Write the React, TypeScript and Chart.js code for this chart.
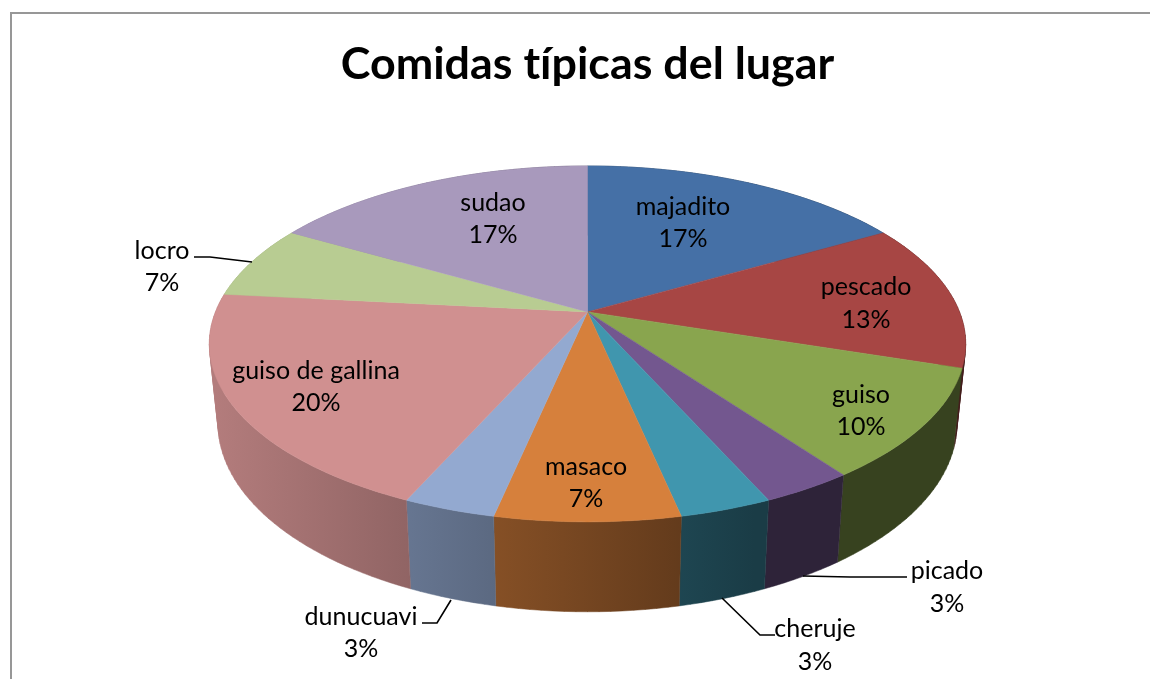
import React, { useEffect, useRef } from "react";
import { Chart, registerables } from "chart.js";

Chart.register(...registerables);

const TITLE = "Comidas típicas del lugar";
const FONT = "Lato, 'Open Sans', sans-serif";
const categories = ["majadito", "pescado", "guiso", "picado", "cheruje", "masaco", "dunucuavi", "guiso de gallina", "locro", "sudao"];
const counts = [5, 4, 3, 1, 1, 2, 1, 6, 2, 5];
const sliceColors = ["#4570a6", "#a74644", "#89a54e", "#73578f", "#4096ae", "#d6803c", "#93a9d0", "#d09090", "#b8cc92", "#a899bc"];

// Centre of each data label's two text lines: [x, first line y, second line y]
const labelPlaces: [number, number, number][] = [
  [683, 207, 239], [866, 287, 320], [861, 395, 427], [947, 571, 604], [815, 629, 662],
  [586, 467, 499], [361, 617, 649], [316, 371, 403], [162, 251, 283], [493, 203, 235],
];
// Leader lines for the labels placed outside the pie
const leaderLines: [number, number][][] = [
  [[194, 257], [210, 257], [252, 262]],
  [[422, 623], [437, 623], [451, 600]],
  [[722, 598], [760, 635], [775, 635]],
  [[803, 576], [850, 577], [907, 577]],
];

// Perspective of the tilted disc
const RX = 372, RY = 172.2, TILT = 0.18, BASE_SCALE = 0.977, DEPTH = 77.7;

function top(cx: number, cy: number, a: number): [number, number] {
  const u = Math.cos(a), v = Math.sin(a), d = 1 - TILT * v;
  return [cx + (RX * u) / d, cy + (RY * v) / d];
}
function bottom(cx: number, cy: number, a: number): [number, number] {
  const u = Math.cos(a), v = Math.sin(a), d = 1 - TILT * v;
  return [cx + (BASE_SCALE * RX * u) / d, cy + (BASE_SCALE * RY * v + DEPTH) / d];
}
function shade(hex: string, f: number) {
  const n = parseInt(hex.slice(1), 16);
  return `rgb(${Math.round(((n >> 16) & 255) * f)},${Math.round(((n >> 8) & 255) * f)},${Math.round((n & 255) * f)})`;
}

const pie3d = {
  id: "pie3d",
  beforeDraw(chart: any) {
    // A tiny letter spacing turns off the "ti" ligature of the font
    chart.ctx.letterSpacing = "0.01px";
  },
  beforeDatasetDraw(chart: any) {
    const ctx = chart.ctx as CanvasRenderingContext2D;
    const arcs = chart.getDatasetMeta(0).data as any[];
    const STEP = Math.PI / 120;
    arcs.forEach((arc, i) => {
      const { x, y, startAngle, endAngle } = arc;
      const grad = ctx.createLinearGradient(x - RX, 0, x + RX, 0);
      grad.addColorStop(0, shade(sliceColors[i], 0.86));
      grad.addColorStop(0.725, shade(sliceColors[i], 0.4));
      grad.addColorStop(1, shade(sliceColors[i], 0.4));
      ctx.beginPath();
      for (let a = startAngle; a < endAngle - 1e-6; a += STEP) {
        const b = Math.min(a + STEP, endAngle);
        const q = [top(x, y, a), top(x, y, b), bottom(x, y, b), bottom(x, y, a)];
        let area = 0;
        q.forEach((p, k) => {
          const n = q[(k + 1) % 4];
          area += p[0] * n[1] - n[0] * p[1];
        });
        if (area < 0) q.reverse();
        q.forEach((p, k) => (k ? ctx.lineTo(p[0], p[1]) : ctx.moveTo(p[0], p[1])));
        ctx.closePath();
      }
      ctx.fillStyle = grad;
      ctx.strokeStyle = grad;
      ctx.lineWidth = 0.5;
      ctx.fill();
      ctx.stroke();
    });
    arcs.forEach((arc, i) => {
      const { x, y, startAngle, endAngle } = arc;
      ctx.beginPath();
      ctx.moveTo(x, y);
      for (let a = startAngle; a < endAngle; a += STEP / 2) {
        const q = top(x, y, a);
        ctx.lineTo(q[0], q[1]);
      }
      const e = top(x, y, endAngle);
      ctx.lineTo(e[0], e[1]);
      ctx.closePath();
      ctx.fillStyle = sliceColors[i];
      ctx.strokeStyle = sliceColors[i];
      ctx.lineWidth = 0.5;
      ctx.fill();
      ctx.stroke();
    });
    return false;
  },
  afterDraw(chart: any) {
    const ctx = chart.ctx as CanvasRenderingContext2D;
    const total = counts.reduce((s, v) => s + v, 0);
    ctx.save();
    ctx.strokeStyle = "#000";
    ctx.lineWidth = 1.6;
    leaderLines.forEach((pts) => {
      ctx.beginPath();
      pts.forEach((q, k) => (k ? ctx.lineTo(q[0], q[1]) : ctx.moveTo(q[0], q[1])));
      ctx.stroke();
    });
    ctx.fillStyle = "#000";
    ctx.textAlign = "center";
    ctx.textBaseline = "middle";
    ctx.font = `25px ${FONT}`;
    categories.forEach((name, i) => {
      const [x, y1, y2] = labelPlaces[i];
      ctx.fillText(name, x, y1);
      ctx.fillText(`${Math.round((counts[i] / total) * 100)}%`, x, y2);
    });
    ctx.restore();
  },
};

export default function App() {
  const ref = useRef<HTMLCanvasElement>(null);
  useEffect(() => {
    const chart = new Chart(ref.current!, {
      type: "pie",
      data: {
        labels: categories,
        datasets: [{ data: counts, backgroundColor: sliceColors, borderWidth: 0 }],
      },
      options: {
        animation: false,
        responsive: false,
        layout: { padding: { left: 25, right: 0, top: 0, bottom: 169 } },
        plugins: {
          legend: { display: false },
          tooltip: { enabled: false },
          title: {
            display: true,
            text: TITLE,
            color: "#000",
            font: { family: FONT, size: 44.8, weight: "bold" },
            padding: { top: 38, bottom: 22 },
          },
        },
      },
      plugins: [pie3d],
    } as any);
    return () => chart.destroy();
  }, []);
  return (
    <div style={{ position: "fixed", left: 0, top: 0, width: 1150, height: 679, overflow: "hidden", background: "#fff" }}>
      <canvas ref={ref} width={1150} height={679} style={{ display: "block", position: "absolute", left: 0, top: 0 }} />
      <div style={{ position: "absolute", left: 10, top: 12, width: 1200, height: 800, borderLeft: "2px solid #979797", borderTop: "2px solid #979797" }} />
    </div>
  );
}
